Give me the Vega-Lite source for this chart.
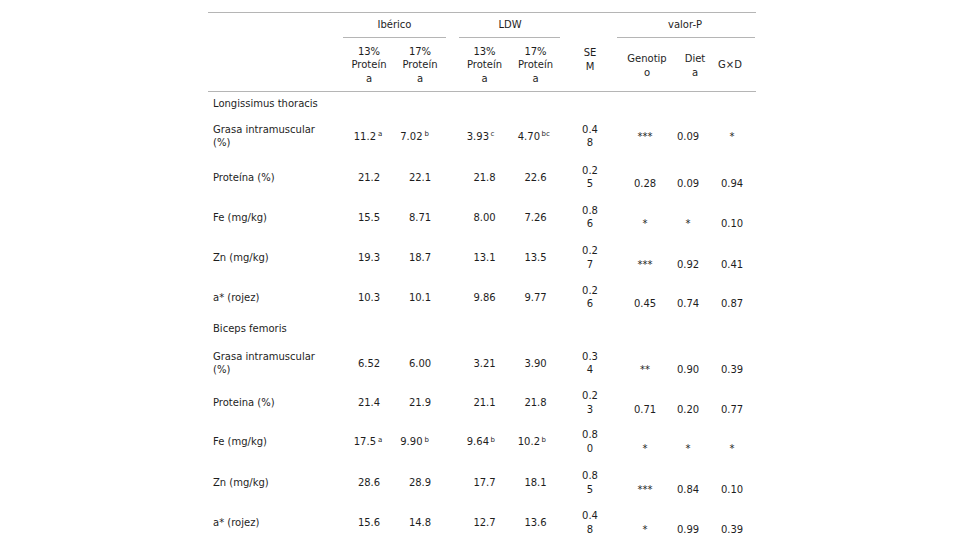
{
  "$schema": "https://vega.github.io/schema/vega-lite/v6.json",
  "width": 980,
  "height": 560,
  "autosize": "none",
  "padding": 0,
  "background": "white",
  "config": {
    "view": {"stroke": null},
    "text": {"font": "DejaVu Sans", "fontSize": 10, "color": "#1e1e1e", "baseline": "middle", "lineBreak": "\n", "lineHeight": 13.5}
  },
  "data": {
    "values": [
      {"r": 5, "label": "Longissimus thoracis"},
      {"r": 6, "label": "Grasa intramuscular (%)", "I13": "11.2", "I13s": "a", "I17": "7.02", "I17s": "b", "L13": "3.93", "L13s": "c", "L17": "4.70", "L17s": "bc", "SEM": "0.48", "Gen": "***", "Diet": "0.09", "GxD": "*"},
      {"r": 7, "label": "Proteína (%)", "I13": "21.2", "I17": "22.1", "L13": "21.8", "L17": "22.6", "SEM": "0.25", "Gen": "0.28", "Diet": "0.09", "GxD": "0.94"},
      {"r": 8, "label": "Fe (mg/kg)", "I13": "15.5", "I17": "8.71", "L13": "8.00", "L17": "7.26", "SEM": "0.86", "Gen": "*", "Diet": "*", "GxD": "0.10"},
      {"r": 9, "label": "Zn (mg/kg)", "I13": "19.3", "I17": "18.7", "L13": "13.1", "L17": "13.5", "SEM": "0.27", "Gen": "***", "Diet": "0.92", "GxD": "0.41"},
      {"r": 10, "label": "a* (rojez)", "I13": "10.3", "I17": "10.1", "L13": "9.86", "L17": "9.77", "SEM": "0.26", "Gen": "0.45", "Diet": "0.74", "GxD": "0.87"},
      {"r": 11, "label": "Biceps femoris"},
      {"r": 12, "label": "Grasa intramuscular (%)", "I13": "6.52", "I17": "6.00", "L13": "3.21", "L17": "3.90", "SEM": "0.34", "Gen": "**", "Diet": "0.90", "GxD": "0.39"},
      {"r": 13, "label": "Proteina (%)", "I13": "21.4", "I17": "21.9", "L13": "21.1", "L17": "21.8", "SEM": "0.23", "Gen": "0.71", "Diet": "0.20", "GxD": "0.77"},
      {"r": 14, "label": "Fe (mg/kg)", "I13": "17.5", "I13s": "a", "I17": "9.90", "I17s": "b", "L13": "9.64", "L13s": "b", "L17": "10.2", "L17s": "b", "SEM": "0.80", "Gen": "*", "Diet": "*", "GxD": "*"},
      {"r": 15, "label": "Zn (mg/kg)", "I13": "28.6", "I17": "28.9", "L13": "17.7", "L17": "18.1", "SEM": "0.85", "Gen": "***", "Diet": "0.84", "GxD": "0.10"},
      {"r": 16, "label": "a* (rojez)", "I13": "15.6", "I17": "14.8", "L13": "12.7", "L17": "13.6", "SEM": "0.48", "Gen": "*", "Diet": "0.99", "GxD": "0.39"}
    ]
  },
  "layer": [
    {"data": {"values": [{}]}, "mark": {"type": "rule", "color": "#b5b5b5", "strokeWidth": 1, "xOffset": -5, "x2Offset": 24},
     "encoding": {"x": {"datum": 0, "type": "quantitative", "axis": null, "scale": {"domain": [0,1,2,3,4,5,6,7,8], "range": [213,369,420,484.5,535.5,590,645,688,732], "nice": false, "zero": false}}, "x2": {"datum": 8},
      "y": {"datum": 0, "type": "quantitative", "axis": null, "scale": {"domain": [0,1,2,3,4,5,6,7,8,9,10,11,12,13,14,15,16], "range": [12.5,24.5,37.5,65.3,91.5,104,136.5,177.5,217.5,258,297.5,329,363.5,403,442,483,523], "nice": false, "zero": false}}}},
    {"data": {"values": [{}]}, "mark": {"type": "rule", "color": "#b5b5b5", "strokeWidth": 1, "xOffset": -5, "x2Offset": 24},
     "encoding": {"x": {"datum": 0, "type": "quantitative", "axis": null, "scale": {"domain": [0,1,2,3,4,5,6,7,8], "range": [213,369,420,484.5,535.5,590,645,688,732], "nice": false, "zero": false}}, "x2": {"datum": 8},
      "y": {"datum": 4, "type": "quantitative", "axis": null, "scale": {"domain": [0,1,2,3,4,5,6,7,8,9,10,11,12,13,14,15,16], "range": [12.5,24.5,37.5,65.3,91.5,104,136.5,177.5,217.5,258,297.5,329,363.5,403,442,483,523], "nice": false, "zero": false}}}},
    {"data": {"values": [{}]}, "mark": {"type": "rule", "color": "#b5b5b5", "strokeWidth": 1, "xOffset": -26, "x2Offset": 26},
     "encoding": {"x": {"datum": 1, "type": "quantitative", "axis": null, "scale": {"domain": [0,1,2,3,4,5,6,7,8], "range": [213,369,420,484.5,535.5,590,645,688,732], "nice": false, "zero": false}}, "x2": {"datum": 2},
      "y": {"datum": 2, "type": "quantitative", "axis": null, "scale": {"domain": [0,1,2,3,4,5,6,7,8,9,10,11,12,13,14,15,16], "range": [12.5,24.5,37.5,65.3,91.5,104,136.5,177.5,217.5,258,297.5,329,363.5,403,442,483,523], "nice": false, "zero": false}}}},
    {"data": {"values": [{}]}, "mark": {"type": "rule", "color": "#b5b5b5", "strokeWidth": 1, "xOffset": -25.5, "x2Offset": 24.5},
     "encoding": {"x": {"datum": 3, "type": "quantitative", "axis": null, "scale": {"domain": [0,1,2,3,4,5,6,7,8], "range": [213,369,420,484.5,535.5,590,645,688,732], "nice": false, "zero": false}}, "x2": {"datum": 4},
      "y": {"datum": 2, "type": "quantitative", "axis": null, "scale": {"domain": [0,1,2,3,4,5,6,7,8,9,10,11,12,13,14,15,16], "range": [12.5,24.5,37.5,65.3,91.5,104,136.5,177.5,217.5,258,297.5,329,363.5,403,442,483,523], "nice": false, "zero": false}}}},
    {"data": {"values": [{}]}, "mark": {"type": "rule", "color": "#b5b5b5", "strokeWidth": 1, "xOffset": -28, "x2Offset": 23},
     "encoding": {"x": {"datum": 6, "type": "quantitative", "axis": null, "scale": {"domain": [0,1,2,3,4,5,6,7,8], "range": [213,369,420,484.5,535.5,590,645,688,732], "nice": false, "zero": false}}, "x2": {"datum": 8},
      "y": {"datum": 2, "type": "quantitative", "axis": null, "scale": {"domain": [0,1,2,3,4,5,6,7,8,9,10,11,12,13,14,15,16], "range": [12.5,24.5,37.5,65.3,91.5,104,136.5,177.5,217.5,258,297.5,329,363.5,403,442,483,523], "nice": false, "zero": false}}}},

    {"data": {"values": [{}]}, "mark": {"type": "text", "align": "center", "text": "Ibérico"},
     "encoding": {"x": {"datum": 1.5, "type": "quantitative", "axis": null, "scale": {"domain": [0,1,2,3,4,5,6,7,8], "range": [213,369,420,484.5,535.5,590,645,688,732], "nice": false, "zero": false}},
      "y": {"datum": 1, "type": "quantitative", "axis": null, "scale": {"domain": [0,1,2,3,4,5,6,7,8,9,10,11,12,13,14,15,16], "range": [12.5,24.5,37.5,65.3,91.5,104,136.5,177.5,217.5,258,297.5,329,363.5,403,442,483,523], "nice": false, "zero": false}}}},
    {"data": {"values": [{}]}, "mark": {"type": "text", "align": "center", "text": "LDW"},
     "encoding": {"x": {"datum": 3.5, "type": "quantitative", "axis": null, "scale": {"domain": [0,1,2,3,4,5,6,7,8], "range": [213,369,420,484.5,535.5,590,645,688,732], "nice": false, "zero": false}},
      "y": {"datum": 1, "type": "quantitative", "axis": null, "scale": {"domain": [0,1,2,3,4,5,6,7,8,9,10,11,12,13,14,15,16], "range": [12.5,24.5,37.5,65.3,91.5,104,136.5,177.5,217.5,258,297.5,329,363.5,403,442,483,523], "nice": false, "zero": false}}}},
    {"data": {"values": [{}]}, "mark": {"type": "text", "align": "center", "text": "valor-P", "xOffset": -3},
     "encoding": {"x": {"datum": 7, "type": "quantitative", "axis": null, "scale": {"domain": [0,1,2,3,4,5,6,7,8], "range": [213,369,420,484.5,535.5,590,645,688,732], "nice": false, "zero": false}},
      "y": {"datum": 1, "type": "quantitative", "axis": null, "scale": {"domain": [0,1,2,3,4,5,6,7,8,9,10,11,12,13,14,15,16], "range": [12.5,24.5,37.5,65.3,91.5,104,136.5,177.5,217.5,258,297.5,329,363.5,403,442,483,523], "nice": false, "zero": false}}}},
    {"data": {"values": [{}]}, "mark": {"type": "text", "align": "center", "text": ["13%", "Proteín", "a"], "yOffset": -13.5},
     "encoding": {"x": {"datum": 1, "type": "quantitative", "axis": null, "scale": {"domain": [0,1,2,3,4,5,6,7,8], "range": [213,369,420,484.5,535.5,590,645,688,732], "nice": false, "zero": false}},
      "y": {"datum": 3, "type": "quantitative", "axis": null, "scale": {"domain": [0,1,2,3,4,5,6,7,8,9,10,11,12,13,14,15,16], "range": [12.5,24.5,37.5,65.3,91.5,104,136.5,177.5,217.5,258,297.5,329,363.5,403,442,483,523], "nice": false, "zero": false}}}},
    {"data": {"values": [{}]}, "mark": {"type": "text", "align": "center", "text": ["17%", "Proteín", "a"], "yOffset": -13.5},
     "encoding": {"x": {"datum": 2, "type": "quantitative", "axis": null, "scale": {"domain": [0,1,2,3,4,5,6,7,8], "range": [213,369,420,484.5,535.5,590,645,688,732], "nice": false, "zero": false}},
      "y": {"datum": 3, "type": "quantitative", "axis": null, "scale": {"domain": [0,1,2,3,4,5,6,7,8,9,10,11,12,13,14,15,16], "range": [12.5,24.5,37.5,65.3,91.5,104,136.5,177.5,217.5,258,297.5,329,363.5,403,442,483,523], "nice": false, "zero": false}}}},
    {"data": {"values": [{}]}, "mark": {"type": "text", "align": "center", "text": ["13%", "Proteín", "a"], "yOffset": -13.5},
     "encoding": {"x": {"datum": 3, "type": "quantitative", "axis": null, "scale": {"domain": [0,1,2,3,4,5,6,7,8], "range": [213,369,420,484.5,535.5,590,645,688,732], "nice": false, "zero": false}},
      "y": {"datum": 3, "type": "quantitative", "axis": null, "scale": {"domain": [0,1,2,3,4,5,6,7,8,9,10,11,12,13,14,15,16], "range": [12.5,24.5,37.5,65.3,91.5,104,136.5,177.5,217.5,258,297.5,329,363.5,403,442,483,523], "nice": false, "zero": false}}}},
    {"data": {"values": [{}]}, "mark": {"type": "text", "align": "center", "text": ["17%", "Proteín", "a"], "yOffset": -13.5},
     "encoding": {"x": {"datum": 4, "type": "quantitative", "axis": null, "scale": {"domain": [0,1,2,3,4,5,6,7,8], "range": [213,369,420,484.5,535.5,590,645,688,732], "nice": false, "zero": false}},
      "y": {"datum": 3, "type": "quantitative", "axis": null, "scale": {"domain": [0,1,2,3,4,5,6,7,8,9,10,11,12,13,14,15,16], "range": [12.5,24.5,37.5,65.3,91.5,104,136.5,177.5,217.5,258,297.5,329,363.5,403,442,483,523], "nice": false, "zero": false}}}},
    {"data": {"values": [{}]}, "mark": {"type": "text", "align": "center", "text": ["SE", "M"], "yOffset": -12.3},
     "encoding": {"x": {"datum": 5, "type": "quantitative", "axis": null, "scale": {"domain": [0,1,2,3,4,5,6,7,8], "range": [213,369,420,484.5,535.5,590,645,688,732], "nice": false, "zero": false}},
      "y": {"datum": 3, "type": "quantitative", "axis": null, "scale": {"domain": [0,1,2,3,4,5,6,7,8,9,10,11,12,13,14,15,16], "range": [12.5,24.5,37.5,65.3,91.5,104,136.5,177.5,217.5,258,297.5,329,363.5,403,442,483,523], "nice": false, "zero": false}}}},
    {"data": {"values": [{}]}, "mark": {"type": "text", "align": "center", "text": ["Genotip", "o"], "xOffset": 2, "yOffset": -6.3},
     "encoding": {"x": {"datum": 6, "type": "quantitative", "axis": null, "scale": {"domain": [0,1,2,3,4,5,6,7,8], "range": [213,369,420,484.5,535.5,590,645,688,732], "nice": false, "zero": false}},
      "y": {"datum": 3, "type": "quantitative", "axis": null, "scale": {"domain": [0,1,2,3,4,5,6,7,8,9,10,11,12,13,14,15,16], "range": [12.5,24.5,37.5,65.3,91.5,104,136.5,177.5,217.5,258,297.5,329,363.5,403,442,483,523], "nice": false, "zero": false}}}},
    {"data": {"values": [{}]}, "mark": {"type": "text", "align": "center", "text": ["Diet", "a"], "xOffset": 7, "yOffset": -6.3},
     "encoding": {"x": {"datum": 7, "type": "quantitative", "axis": null, "scale": {"domain": [0,1,2,3,4,5,6,7,8], "range": [213,369,420,484.5,535.5,590,645,688,732], "nice": false, "zero": false}},
      "y": {"datum": 3, "type": "quantitative", "axis": null, "scale": {"domain": [0,1,2,3,4,5,6,7,8,9,10,11,12,13,14,15,16], "range": [12.5,24.5,37.5,65.3,91.5,104,136.5,177.5,217.5,258,297.5,329,363.5,403,442,483,523], "nice": false, "zero": false}}}},
    {"data": {"values": [{}]}, "mark": {"type": "text", "align": "center", "text": "G×D", "xOffset": -2},
     "encoding": {"x": {"datum": 8, "type": "quantitative", "axis": null, "scale": {"domain": [0,1,2,3,4,5,6,7,8], "range": [213,369,420,484.5,535.5,590,645,688,732], "nice": false, "zero": false}},
      "y": {"datum": 3, "type": "quantitative", "axis": null, "scale": {"domain": [0,1,2,3,4,5,6,7,8,9,10,11,12,13,14,15,16], "range": [12.5,24.5,37.5,65.3,91.5,104,136.5,177.5,217.5,258,297.5,329,363.5,403,442,483,523], "nice": false, "zero": false}}}},

    {"transform": [{"filter": "indexof(datum.label, 'intramuscular') < 0"}],
     "mark": {"type": "text", "align": "left"},
     "encoding": {"text": {"field": "label"}, "x": {"datum": 0, "type": "quantitative", "axis": null, "scale": {"domain": [0,1,2,3,4,5,6,7,8], "range": [213,369,420,484.5,535.5,590,645,688,732], "nice": false, "zero": false}},
      "y": {"field": "r", "type": "quantitative", "axis": null, "scale": {"domain": [0,1,2,3,4,5,6,7,8,9,10,11,12,13,14,15,16], "range": [12.5,24.5,37.5,65.3,91.5,104,136.5,177.5,217.5,258,297.5,329,363.5,403,442,483,523], "nice": false, "zero": false}}}},
    {"transform": [{"filter": "indexof(datum.label, 'intramuscular') >= 0"}, {"calculate": "replace(datum.label, 'intramuscular ', 'intramuscular\\n')", "as": "lab"}],
     "mark": {"type": "text", "align": "left", "yOffset": -7},
     "encoding": {"text": {"field": "lab"}, "x": {"datum": 0, "type": "quantitative", "axis": null, "scale": {"domain": [0,1,2,3,4,5,6,7,8], "range": [213,369,420,484.5,535.5,590,645,688,732], "nice": false, "zero": false}},
      "y": {"field": "r", "type": "quantitative", "axis": null, "scale": {"domain": [0,1,2,3,4,5,6,7,8,9,10,11,12,13,14,15,16], "range": [12.5,24.5,37.5,65.3,91.5,104,136.5,177.5,217.5,258,297.5,329,363.5,403,442,483,523], "nice": false, "zero": false}}}},

    {"transform": [{"filter": "isValid(datum.I13) && !isValid(datum.I13s)"}], "mark": {"type": "text", "align": "center"},
     "encoding": {"text": {"field": "I13"}, "x": {"datum": 1, "type": "quantitative", "axis": null, "scale": {"domain": [0,1,2,3,4,5,6,7,8], "range": [213,369,420,484.5,535.5,590,645,688,732], "nice": false, "zero": false}},
      "y": {"field": "r", "type": "quantitative", "axis": null, "scale": {"domain": [0,1,2,3,4,5,6,7,8,9,10,11,12,13,14,15,16], "range": [12.5,24.5,37.5,65.3,91.5,104,136.5,177.5,217.5,258,297.5,329,363.5,403,442,483,523], "nice": false, "zero": false}}}},
    {"transform": [{"filter": "isValid(datum.I13s)"}], "mark": {"type": "text", "align": "right", "xOffset": 7},
     "encoding": {"text": {"field": "I13"}, "x": {"datum": 1, "type": "quantitative", "axis": null, "scale": {"domain": [0,1,2,3,4,5,6,7,8], "range": [213,369,420,484.5,535.5,590,645,688,732], "nice": false, "zero": false}},
      "y": {"field": "r", "type": "quantitative", "axis": null, "scale": {"domain": [0,1,2,3,4,5,6,7,8,9,10,11,12,13,14,15,16], "range": [12.5,24.5,37.5,65.3,91.5,104,136.5,177.5,217.5,258,297.5,329,363.5,403,442,483,523], "nice": false, "zero": false}}}},
    {"transform": [{"filter": "isValid(datum.I13s)"}], "mark": {"type": "text", "align": "left", "xOffset": 9, "yOffset": -2.5, "fontSize": 7},
     "encoding": {"text": {"field": "I13s"}, "x": {"datum": 1, "type": "quantitative", "axis": null, "scale": {"domain": [0,1,2,3,4,5,6,7,8], "range": [213,369,420,484.5,535.5,590,645,688,732], "nice": false, "zero": false}},
      "y": {"field": "r", "type": "quantitative", "axis": null, "scale": {"domain": [0,1,2,3,4,5,6,7,8,9,10,11,12,13,14,15,16], "range": [12.5,24.5,37.5,65.3,91.5,104,136.5,177.5,217.5,258,297.5,329,363.5,403,442,483,523], "nice": false, "zero": false}}}},

    {"transform": [{"filter": "isValid(datum.I17) && !isValid(datum.I17s)"}], "mark": {"type": "text", "align": "center"},
     "encoding": {"text": {"field": "I17"}, "x": {"datum": 2, "type": "quantitative", "axis": null, "scale": {"domain": [0,1,2,3,4,5,6,7,8], "range": [213,369,420,484.5,535.5,590,645,688,732], "nice": false, "zero": false}},
      "y": {"field": "r", "type": "quantitative", "axis": null, "scale": {"domain": [0,1,2,3,4,5,6,7,8,9,10,11,12,13,14,15,16], "range": [12.5,24.5,37.5,65.3,91.5,104,136.5,177.5,217.5,258,297.5,329,363.5,403,442,483,523], "nice": false, "zero": false}}}},
    {"transform": [{"filter": "isValid(datum.I17s)"}], "mark": {"type": "text", "align": "right", "xOffset": 2.5},
     "encoding": {"text": {"field": "I17"}, "x": {"datum": 2, "type": "quantitative", "axis": null, "scale": {"domain": [0,1,2,3,4,5,6,7,8], "range": [213,369,420,484.5,535.5,590,645,688,732], "nice": false, "zero": false}},
      "y": {"field": "r", "type": "quantitative", "axis": null, "scale": {"domain": [0,1,2,3,4,5,6,7,8,9,10,11,12,13,14,15,16], "range": [12.5,24.5,37.5,65.3,91.5,104,136.5,177.5,217.5,258,297.5,329,363.5,403,442,483,523], "nice": false, "zero": false}}}},
    {"transform": [{"filter": "isValid(datum.I17s)"}], "mark": {"type": "text", "align": "left", "xOffset": 4.5, "yOffset": -2.5, "fontSize": 7},
     "encoding": {"text": {"field": "I17s"}, "x": {"datum": 2, "type": "quantitative", "axis": null, "scale": {"domain": [0,1,2,3,4,5,6,7,8], "range": [213,369,420,484.5,535.5,590,645,688,732], "nice": false, "zero": false}},
      "y": {"field": "r", "type": "quantitative", "axis": null, "scale": {"domain": [0,1,2,3,4,5,6,7,8,9,10,11,12,13,14,15,16], "range": [12.5,24.5,37.5,65.3,91.5,104,136.5,177.5,217.5,258,297.5,329,363.5,403,442,483,523], "nice": false, "zero": false}}}},

    {"transform": [{"filter": "isValid(datum.L13) && !isValid(datum.L13s)"}], "mark": {"type": "text", "align": "center"},
     "encoding": {"text": {"field": "L13"}, "x": {"datum": 3, "type": "quantitative", "axis": null, "scale": {"domain": [0,1,2,3,4,5,6,7,8], "range": [213,369,420,484.5,535.5,590,645,688,732], "nice": false, "zero": false}},
      "y": {"field": "r", "type": "quantitative", "axis": null, "scale": {"domain": [0,1,2,3,4,5,6,7,8,9,10,11,12,13,14,15,16], "range": [12.5,24.5,37.5,65.3,91.5,104,136.5,177.5,217.5,258,297.5,329,363.5,403,442,483,523], "nice": false, "zero": false}}}},
    {"transform": [{"filter": "isValid(datum.L13s)"}], "mark": {"type": "text", "align": "right", "xOffset": 4.5},
     "encoding": {"text": {"field": "L13"}, "x": {"datum": 3, "type": "quantitative", "axis": null, "scale": {"domain": [0,1,2,3,4,5,6,7,8], "range": [213,369,420,484.5,535.5,590,645,688,732], "nice": false, "zero": false}},
      "y": {"field": "r", "type": "quantitative", "axis": null, "scale": {"domain": [0,1,2,3,4,5,6,7,8,9,10,11,12,13,14,15,16], "range": [12.5,24.5,37.5,65.3,91.5,104,136.5,177.5,217.5,258,297.5,329,363.5,403,442,483,523], "nice": false, "zero": false}}}},
    {"transform": [{"filter": "isValid(datum.L13s)"}], "mark": {"type": "text", "align": "left", "xOffset": 6, "yOffset": -2.5, "fontSize": 7},
     "encoding": {"text": {"field": "L13s"}, "x": {"datum": 3, "type": "quantitative", "axis": null, "scale": {"domain": [0,1,2,3,4,5,6,7,8], "range": [213,369,420,484.5,535.5,590,645,688,732], "nice": false, "zero": false}},
      "y": {"field": "r", "type": "quantitative", "axis": null, "scale": {"domain": [0,1,2,3,4,5,6,7,8,9,10,11,12,13,14,15,16], "range": [12.5,24.5,37.5,65.3,91.5,104,136.5,177.5,217.5,258,297.5,329,363.5,403,442,483,523], "nice": false, "zero": false}}}},

    {"transform": [{"filter": "isValid(datum.L17) && !isValid(datum.L17s)"}], "mark": {"type": "text", "align": "center"},
     "encoding": {"text": {"field": "L17"}, "x": {"datum": 4, "type": "quantitative", "axis": null, "scale": {"domain": [0,1,2,3,4,5,6,7,8], "range": [213,369,420,484.5,535.5,590,645,688,732], "nice": false, "zero": false}},
      "y": {"field": "r", "type": "quantitative", "axis": null, "scale": {"domain": [0,1,2,3,4,5,6,7,8,9,10,11,12,13,14,15,16], "range": [12.5,24.5,37.5,65.3,91.5,104,136.5,177.5,217.5,258,297.5,329,363.5,403,442,483,523], "nice": false, "zero": false}}}},
    {"transform": [{"filter": "isValid(datum.L17s)"}], "mark": {"type": "text", "align": "right", "xOffset": 4.5},
     "encoding": {"text": {"field": "L17"}, "x": {"datum": 4, "type": "quantitative", "axis": null, "scale": {"domain": [0,1,2,3,4,5,6,7,8], "range": [213,369,420,484.5,535.5,590,645,688,732], "nice": false, "zero": false}},
      "y": {"field": "r", "type": "quantitative", "axis": null, "scale": {"domain": [0,1,2,3,4,5,6,7,8,9,10,11,12,13,14,15,16], "range": [12.5,24.5,37.5,65.3,91.5,104,136.5,177.5,217.5,258,297.5,329,363.5,403,442,483,523], "nice": false, "zero": false}}}},
    {"transform": [{"filter": "isValid(datum.L17s)"}], "mark": {"type": "text", "align": "left", "xOffset": 6, "yOffset": -2.5, "fontSize": 7},
     "encoding": {"text": {"field": "L17s"}, "x": {"datum": 4, "type": "quantitative", "axis": null, "scale": {"domain": [0,1,2,3,4,5,6,7,8], "range": [213,369,420,484.5,535.5,590,645,688,732], "nice": false, "zero": false}},
      "y": {"field": "r", "type": "quantitative", "axis": null, "scale": {"domain": [0,1,2,3,4,5,6,7,8,9,10,11,12,13,14,15,16], "range": [12.5,24.5,37.5,65.3,91.5,104,136.5,177.5,217.5,258,297.5,329,363.5,403,442,483,523], "nice": false, "zero": false}}}},

    {"transform": [{"filter": "isValid(datum.SEM)"}, {"calculate": "substring(datum.SEM, 0, 3) + '\\n' + substring(datum.SEM, 3)", "as": "semTxt"}],
     "mark": {"type": "text", "align": "center", "yOffset": -7},
     "encoding": {"text": {"field": "semTxt"}, "x": {"datum": 5, "type": "quantitative", "axis": null, "scale": {"domain": [0,1,2,3,4,5,6,7,8], "range": [213,369,420,484.5,535.5,590,645,688,732], "nice": false, "zero": false}},
      "y": {"field": "r", "type": "quantitative", "axis": null, "scale": {"domain": [0,1,2,3,4,5,6,7,8,9,10,11,12,13,14,15,16], "range": [12.5,24.5,37.5,65.3,91.5,104,136.5,177.5,217.5,258,297.5,329,363.5,403,442,483,523], "nice": false, "zero": false}}}},

    {"transform": [{"filter": "isValid(datum.Gen) && datum.r != 6"}], "mark": {"type": "text", "align": "center", "yOffset": 6.5},
     "encoding": {"text": {"field": "Gen"}, "x": {"datum": 6, "type": "quantitative", "axis": null, "scale": {"domain": [0,1,2,3,4,5,6,7,8], "range": [213,369,420,484.5,535.5,590,645,688,732], "nice": false, "zero": false}},
      "y": {"field": "r", "type": "quantitative", "axis": null, "scale": {"domain": [0,1,2,3,4,5,6,7,8,9,10,11,12,13,14,15,16], "range": [12.5,24.5,37.5,65.3,91.5,104,136.5,177.5,217.5,258,297.5,329,363.5,403,442,483,523], "nice": false, "zero": false}}}},
    {"transform": [{"filter": "datum.r == 6"}], "mark": {"type": "text", "align": "center"},
     "encoding": {"text": {"field": "Gen"}, "x": {"datum": 6, "type": "quantitative", "axis": null, "scale": {"domain": [0,1,2,3,4,5,6,7,8], "range": [213,369,420,484.5,535.5,590,645,688,732], "nice": false, "zero": false}},
      "y": {"field": "r", "type": "quantitative", "axis": null, "scale": {"domain": [0,1,2,3,4,5,6,7,8,9,10,11,12,13,14,15,16], "range": [12.5,24.5,37.5,65.3,91.5,104,136.5,177.5,217.5,258,297.5,329,363.5,403,442,483,523], "nice": false, "zero": false}}}},
    {"transform": [{"filter": "isValid(datum.Diet) && datum.r != 6"}], "mark": {"type": "text", "align": "center", "yOffset": 6.5},
     "encoding": {"text": {"field": "Diet"}, "x": {"datum": 7, "type": "quantitative", "axis": null, "scale": {"domain": [0,1,2,3,4,5,6,7,8], "range": [213,369,420,484.5,535.5,590,645,688,732], "nice": false, "zero": false}},
      "y": {"field": "r", "type": "quantitative", "axis": null, "scale": {"domain": [0,1,2,3,4,5,6,7,8,9,10,11,12,13,14,15,16], "range": [12.5,24.5,37.5,65.3,91.5,104,136.5,177.5,217.5,258,297.5,329,363.5,403,442,483,523], "nice": false, "zero": false}}}},
    {"transform": [{"filter": "datum.r == 6"}], "mark": {"type": "text", "align": "center"},
     "encoding": {"text": {"field": "Diet"}, "x": {"datum": 7, "type": "quantitative", "axis": null, "scale": {"domain": [0,1,2,3,4,5,6,7,8], "range": [213,369,420,484.5,535.5,590,645,688,732], "nice": false, "zero": false}},
      "y": {"field": "r", "type": "quantitative", "axis": null, "scale": {"domain": [0,1,2,3,4,5,6,7,8,9,10,11,12,13,14,15,16], "range": [12.5,24.5,37.5,65.3,91.5,104,136.5,177.5,217.5,258,297.5,329,363.5,403,442,483,523], "nice": false, "zero": false}}}},
    {"transform": [{"filter": "isValid(datum.GxD) && datum.r != 6"}], "mark": {"type": "text", "align": "center", "yOffset": 6.5},
     "encoding": {"text": {"field": "GxD"}, "x": {"datum": 8, "type": "quantitative", "axis": null, "scale": {"domain": [0,1,2,3,4,5,6,7,8], "range": [213,369,420,484.5,535.5,590,645,688,732], "nice": false, "zero": false}},
      "y": {"field": "r", "type": "quantitative", "axis": null, "scale": {"domain": [0,1,2,3,4,5,6,7,8,9,10,11,12,13,14,15,16], "range": [12.5,24.5,37.5,65.3,91.5,104,136.5,177.5,217.5,258,297.5,329,363.5,403,442,483,523], "nice": false, "zero": false}}}},
    {"transform": [{"filter": "datum.r == 6"}], "mark": {"type": "text", "align": "center"},
     "encoding": {"text": {"field": "GxD"}, "x": {"datum": 8, "type": "quantitative", "axis": null, "scale": {"domain": [0,1,2,3,4,5,6,7,8], "range": [213,369,420,484.5,535.5,590,645,688,732], "nice": false, "zero": false}},
      "y": {"field": "r", "type": "quantitative", "axis": null, "scale": {"domain": [0,1,2,3,4,5,6,7,8,9,10,11,12,13,14,15,16], "range": [12.5,24.5,37.5,65.3,91.5,104,136.5,177.5,217.5,258,297.5,329,363.5,403,442,483,523], "nice": false, "zero": false}}}}
  ]
}
